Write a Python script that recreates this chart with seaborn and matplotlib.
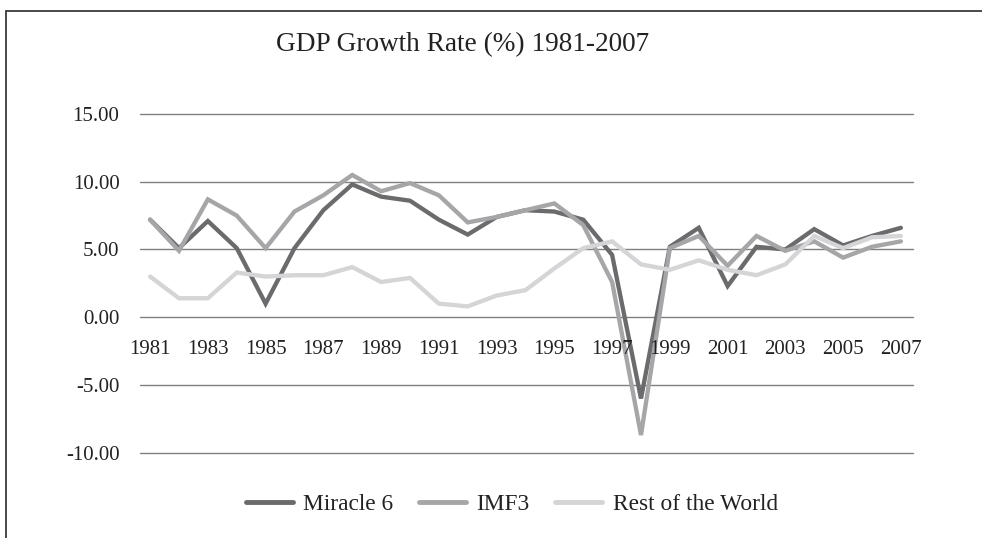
import matplotlib
matplotlib.use("Agg")
import matplotlib.pyplot as plt
import seaborn as sns
import pandas as pd
from matplotlib.patches import Rectangle

years = list(range(1981, 2008))
miracle6 = [7.2, 5.1, 7.1, 5.1, 1.0, 5.1, 7.9, 9.8, 8.9, 8.6, 7.2, 6.1, 7.4, 7.9, 7.8, 7.2,
            4.6, -6.0, 5.2, 6.6, 2.3, 5.2, 5.0, 6.5, 5.3, 6.0, 6.6]
imf3 = [7.2, 4.9, 8.7, 7.5, 5.1, 7.8, 9.0, 10.5, 9.3, 9.9, 9.0, 7.0, 7.4, 7.9, 8.4, 6.8,
        2.6, -8.7, 5.1, 6.0, 3.8, 6.0, 4.9, 5.6, 4.4, 5.2, 5.6]
rest_world = [3.0, 1.4, 1.4, 3.3, 3.0, 3.1, 3.1, 3.7, 2.6, 2.9, 1.0, 0.8, 1.6, 2.0, 3.6, 5.1,
              5.6, 3.9, 3.5, 4.2, 3.5, 3.1, 3.9, 6.0, 5.1, 5.9, 6.0]
series_names = ["Miracle 6", "IMF3", "Rest of the World"]
colors = ["#6b6b6d", "#a6a6a8", "#d5d5d7"]
title = "GDP Growth Rate (%) 1981-2007"
y_ticks = [-10, -5, 0, 5, 10, 15]

df = pd.DataFrame({"idx": list(range(len(years))) * 3,
                   "value": miracle6 + imf3 + rest_world,
                   "series": sum([[n] * len(years) for n in series_names], [])})

sns.set_theme(style="white")
plt.rcParams['font.family'] = ['Liberation Serif', 'DejaVu Serif']

W, H = 982, 538
fig = plt.figure(figsize=(W / 100, H / 100), dpi=100)
left, right = 140 / W, 913 / W
top, bottom = 1 - 114 / H, 1 - 452.7 / H
ax = fig.add_axes([left, bottom, right - left, top - bottom])

sns.lineplot(data=df, x="idx", y="value", hue="series", palette=colors,
             hue_order=series_names, linewidth=3.1, ax=ax, legend=False, sort=False)
for ln in ax.lines:
    ln.set_solid_joinstyle("miter")
    ln.set_clip_on(False)

ax.set_xlim(-0.35, 26.42)
ax.set_ylim(-10, 15)
for s in ax.spines.values():
    s.set_visible(False)
ax.set_yticks(y_ticks)
ax.set_yticklabels([f"{v:.2f}" for v in y_ticks], fontsize=15)
ax.tick_params(axis="y", length=0, pad=14.8, labelcolor="#222222")
ax.set_xticks([])
for v in y_ticks:
    ax.axhline(v, color="#7f7f7f", linewidth=1.0, zorder=0, clip_on=False)
for i, yr in enumerate(years):
    if i % 2 == 0:
        ax.text(i, -1.7, str(yr), ha="center", va="top", fontsize=15, color="#222222")
ax.set_xlabel("")
ax.set_ylabel("")

fig.text(463 / W, 1 - 45 / H, title, ha="center", va="center", fontsize=19.6, color="#222222")

handles = [plt.Line2D([0], [0], color=c, linewidth=3.5) for c in colors]
fig.legend(handles, series_names, loc="center", bbox_to_anchor=(512 / W, 1 - 504 / H),
           ncol=3, frameon=False, fontsize=16.8, handlelength=2.0, handletextpad=0.45,
           columnspacing=1.1, labelcolor="#222222")

fig.patches.append(Rectangle((6 / W, -0.1), 1.2, 1 - 11 / H + 0.1, transform=fig.transFigure,
                             fill=False, edgecolor="#3a3a3a", linewidth=1.3))

fig.savefig("out.png", dpi=100)
